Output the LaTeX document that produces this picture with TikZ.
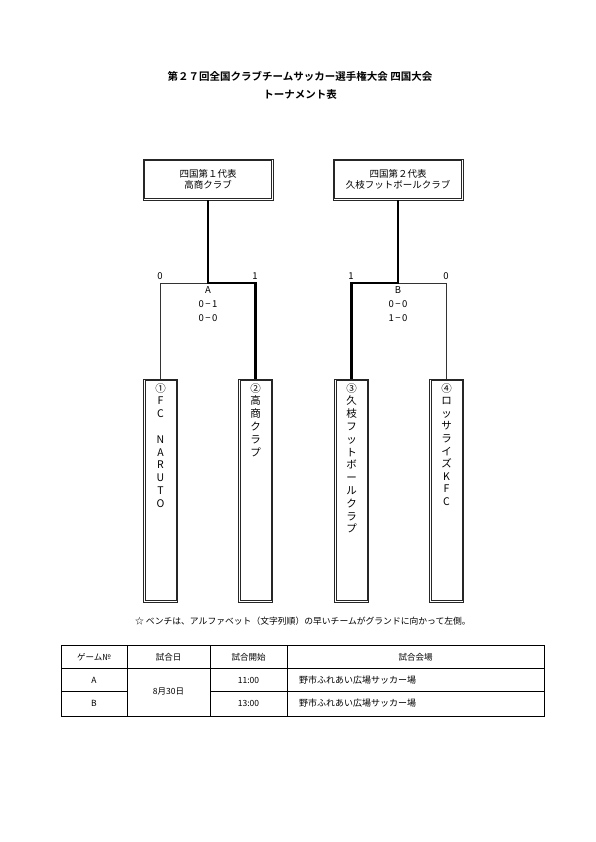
\documentclass[tikz,border=0pt]{standalone}
\usepackage{fontspec}
\setmainfont{Noto Sans CJK JP}
\newfontfamily\jpb{Noto Sans CJK JP}[BoldFont={* Bold}]
\begin{document}
\begin{tikzpicture}[x=1pt,y=-1pt,
  topbox/.style={draw=black!85,line width=0.6pt,minimum width=130pt,minimum height=41pt,align=center,inner sep=0pt,font=\fontsize{9.5}{11}\selectfont},
  teambox/.style={draw=black!85,line width=0.6pt,minimum width=34pt,minimum height=223pt,inner sep=0pt},
  inner/.style={draw=black!85,line width=0.6pt},
  vtext/.style={anchor=north,align=center,inner sep=0pt,font=\fontsize{10.5}{12.8}\selectfont},
  thinln/.style={line width=0.6pt,black!80},
  thickln/.style={line width=2.2pt},
  lbl/.style={inner sep=0pt,font=\fontsize{9.5}{11}\selectfont},
  cell/.style={inner sep=0pt,font=\fontsize{8.5}{10}\selectfont},
  tbl/.style={line width=0.6pt}
]
\useasboundingbox (0,0) rectangle (595,842);
% title
\node[inner sep=0pt,font=\jpb\bfseries\fontsize{10.5}{12}\selectfont] (title1) at (300,76) {第２７回全国クラブチームサッカー選手権大会 四国大会};
\node[inner sep=0pt,font=\jpb\bfseries\fontsize{10.5}{12}\selectfont] (title2) at (300,95) {トーナメント表};
% top boxes
\node[topbox] (t1) at (208,179.5) {四国第１代表\\高商クラブ};
\node[topbox] (t2) at (398,179.5) {四国第２代表\\久枝フットボールクラブ};
% team boxes
\node[teambox] (b1) at (160.5,490.5) {};
\node[teambox] (b2) at (255.5,490.5) {};
\node[teambox] (b3) at (351.5,490.5) {};
\node[teambox] (b4) at (446.5,490.5) {};
% inner lines of double borders
\foreach \n in {t1,t2,b1,b2,b3,b4}
  \draw[inner] ([shift={(2pt,-2pt)}]\n.north west) rectangle ([shift={(-2pt,2pt)}]\n.south east);
\node[vtext] (n1) at (160.5,383) {①\\F\\C\\\mbox{}\\N\\A\\R\\U\\T\\O};
\node[vtext] (n2) at (255.5,383) {②\\高\\商\\ク\\ラ\\プ};
\node[vtext] (n3) at (351.5,383) {③\\久\\枝\\フ\\ッ\\ト\\ボ\\ー\\ル\\ク\\ラ\\プ};
\node[vtext,font=\fontsize{10.5}{12.6}\selectfont] (n4) at (446.5,383) {④\\ロ\\ッ\\サ\\ラ\\イ\\ズ\\K\\F\\C};
% junctions
\coordinate (jA) at (208,283);
\coordinate (jB) at (398,283);
% bracket A
\draw[thinln] (b1.north) |- (jA);
\draw[thickln] (t1.south) -- (jA) -| (b2.north);
% bracket B
\draw[thinln] (b4.north) |- (jB);
\draw[thickln] (t2.south) -- (jB) -| (b3.north);
% labels
\node[lbl] (a0) at (160,276) {0};
\node[lbl] (a1) at (255,276) {1};
\node[lbl] (aA) at (208,290) {A};
\node[lbl] (as1) at (208,304) {0\,−\,1};
\node[lbl] (as2) at (208,318) {0\,−\,0};
\node[lbl] (b1l) at (351,276) {1};
\node[lbl] (b0l) at (446,276) {0};
\node[lbl] (bB) at (398,290) {B};
\node[lbl] (bs1) at (398,304) {0\,−\,0};
\node[lbl] (bs2) at (398,318) {1\,−\,0};
% footnote
\node[inner sep=0pt,font=\fontsize{8.8}{10}\selectfont] (note) at (303,621) {☆ ベンチは、アルファベット（文字列順）の早いチームがグランドに向かって左側。};
% table
\coordinate (tl) at (61,645);
\coordinate (br) at (544,716);
\draw[tbl] (tl) rectangle (br);
\draw[tbl] (61,668) -- (544,668);
\draw[tbl] (61,691) -- (127,691);
\draw[tbl] (210,691) -- (544,691);
\draw[tbl] (127,645) -- (127,716);
\draw[tbl] (210,645) -- (210,716);
\draw[tbl] (287,645) -- (287,716);
\node[cell] (h1) at (94,657) {ゲーム№};
\node[cell] (h2) at (168.5,657) {試合日};
\node[cell] (h3) at (248.5,657) {試合開始};
\node[cell] (h4) at (415.5,657) {試合会場};
\node[cell] (rA) at (94,680) {A};
\node[cell] (rB) at (94,703) {B};
\node[cell] (d) at (168.5,691) {8月30日};
\node[cell] (tA) at (248.5,680) {11:00};
\node[cell] (tB) at (248.5,703) {13:00};
\node[cell,anchor=west,font=\fontsize{9}{10}\selectfont] (vA) at (299,680) {野市ふれあい広場サッカー場};
\node[cell,anchor=west,font=\fontsize{9}{10}\selectfont] (vB) at (299,703) {野市ふれあい広場サッカー場};
\end{tikzpicture}
\end{document}
